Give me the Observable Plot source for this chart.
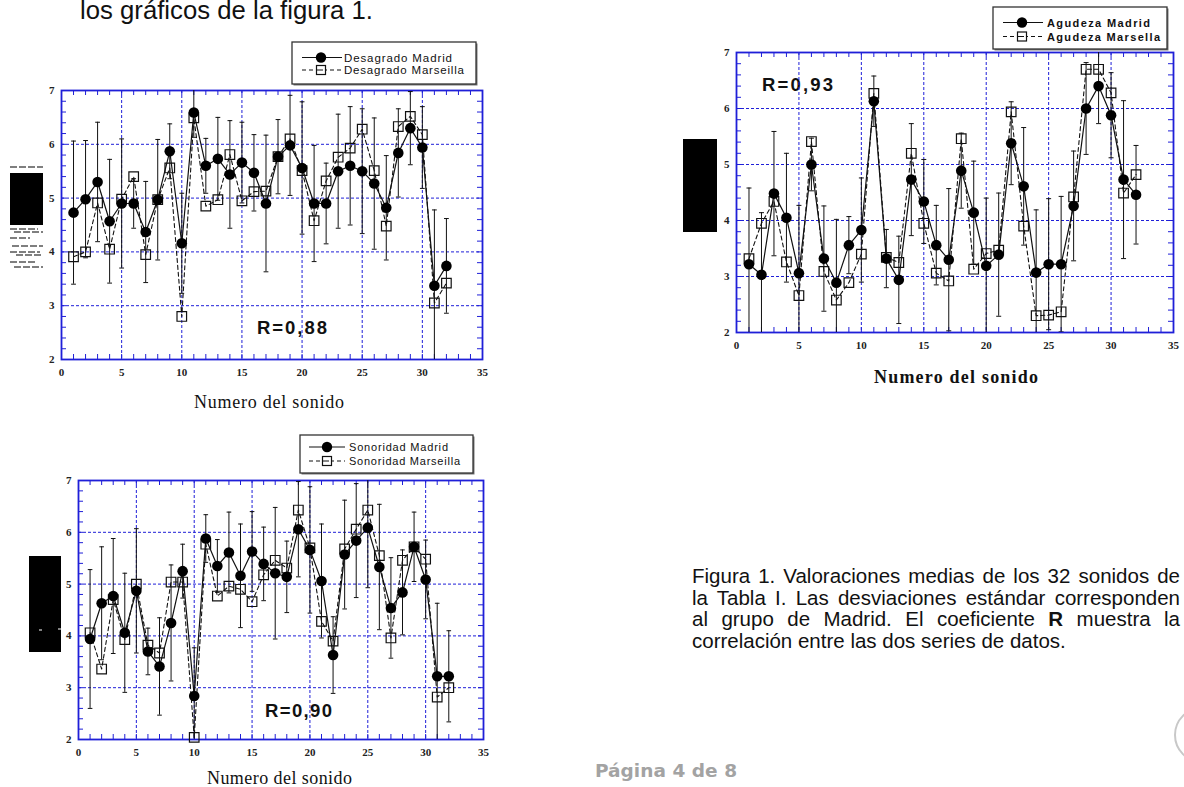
<!DOCTYPE html>
<html><head><meta charset="utf-8">
<script src="https://cdn.jsdelivr.net/npm/d3@7"></script>
<script src="https://cdn.jsdelivr.net/npm/@observablehq/plot@0.6"></script>
<style>
html,body{margin:0;padding:0;background:#fff;}
#page{position:relative;width:1184px;height:787px;overflow:hidden;background:#fff;}
.chart{position:absolute;}
#caption{position:absolute;left:692px;top:565px;width:488px;font-family:'Liberation Sans',Arial,sans-serif;font-size:20.5px;line-height:21.7px;text-align:justify;color:#111;}
#overlay{position:absolute;left:0;top:0;}
</style></head>
<body><div id="page"></div>
<script>
// ---------- data ----------
const sonido = d3.range(1, 33);
const xMajor = [0, 5, 10, 15, 20, 25, 30, 35];
const yMajor = [2, 3, 4, 5, 6, 7];
const xMinor = d3.range(0, 36);
const yMinor = d3.range(20, 71, 2).map(d => d / 10);

const desagradoMadrid   = [4.73,4.98,5.30,4.57,4.90,4.90,4.37,4.97,5.87,4.16,6.59,5.60,5.73,5.44,5.66,5.47,4.90,5.77,5.98,5.56,4.90,4.90,5.50,5.60,5.50,5.27,4.82,5.84,6.30,5.94,3.37,3.74];
const desagradoMarsella = [3.91,4.00,4.91,4.05,4.98,5.40,3.95,4.97,5.56,2.80,6.49,4.85,4.97,5.81,4.95,5.12,5.13,5.77,6.10,5.51,4.58,5.32,5.76,5.93,6.28,5.51,4.48,6.33,6.52,6.18,3.05,3.42];
const desagradoSD       = [1.33,1.09,1.11,1.15,1.20,0.46,0.94,1.12,0.51,0.93,0.46,0.51,0.77,1.00,0.75,0.71,1.27,0.69,0.93,1.23,1.08,0.75,1.06,1.10,1.16,1.22,0.97,0.82,0.68,0.76,1.41,0.88];

const agudezaMadrid   = [3.22,3.03,4.48,4.05,3.06,5.00,3.32,2.89,3.56,3.83,6.13,3.32,2.94,4.73,4.34,3.56,3.30,4.89,4.14,3.19,3.39,5.38,4.61,3.07,3.22,3.22,4.26,6.00,6.40,5.88,4.73,4.46];
const agudezaMarsella = [3.32,3.95,4.34,3.26,2.66,5.41,3.09,2.58,2.89,3.40,6.27,3.34,3.25,5.20,3.95,3.06,2.92,5.46,3.13,3.41,3.47,5.94,3.90,2.30,2.31,2.37,4.42,6.70,6.70,6.28,4.49,4.82];
const agudezaSD       = [1.36,1.11,1.11,1.15,1.21,0.47,0.94,1.13,0.51,0.93,0.45,0.52,0.78,1.00,0.75,0.71,1.27,0.67,0.92,1.21,1.10,0.74,1.05,1.12,1.17,1.21,0.98,0.82,0.67,0.76,1.41,0.88];

const sonoridadMadrid   = [3.94,4.63,4.77,4.06,4.87,3.70,3.41,4.25,5.25,2.84,5.88,5.35,5.61,5.16,5.63,5.39,5.21,5.14,6.06,5.66,5.06,3.63,5.57,5.84,6.09,5.33,4.54,4.84,5.72,5.09,3.22,3.22];
const sonoridadMarsella = [4.06,3.36,4.70,3.93,5.00,3.82,3.67,5.04,5.04,2.04,5.77,4.77,4.96,4.90,4.66,5.18,5.46,5.31,6.43,5.70,4.28,3.90,5.68,6.06,6.43,5.55,3.96,5.46,5.72,5.48,2.82,3.00];
const sonoridadSD       = [1.34,1.09,1.11,1.15,1.20,0.45,0.94,1.12,0.52,0.93,0.46,0.51,0.78,1.00,0.77,0.71,1.27,0.69,0.92,1.22,1.10,0.74,1.05,1.10,1.16,1.21,0.97,0.82,0.67,0.76,1.41,0.88];

const xLabel = "Numero del sonido";
const legendDesagrado = ["Desagrado Madrid", "Desagrado Marseilla"];
const legendAgudeza = ["Agudeza Madrid", "Agudeza Marsella"];
const legendSonoridad = ["Sonoridad Madrid", "Sonoridad Marseilla"];
const rDesagrado = "R=0,88", rAgudeza = "R=0,93", rSonoridad = "R=0,90";

// ---------- layout ----------
const BLUE = "#1f1fd8";
const ML = 30, MR = 10, MT = 10, MB = 30;
const page = document.getElementById("page");

const ov = d3.select(page).append("svg").attr("id", "overlay").attr("width", 1184).attr("height", 787);

function txt(x, y, s, {size, family, weight = "normal", len, fill = "#111", anchor = "start"}) {
  const t = ov.append("text").attr("x", x).attr("y", y).text(s)
    .attr("font-family", family).attr("font-size", size).attr("font-weight", weight)
    .attr("fill", fill).attr("text-anchor", anchor);
  if (len) t.attr("textLength", len).attr("lengthAdjust", "spacing");
  return t;
}
const SANS = "'Liberation Sans', Arial, sans-serif";
const SERIF = "'Liberation Serif', 'Times New Roman', serif";

// top text fragment
txt(80, 19, "los gráficos de la figura 1.", {size: 25.7, family: SANS, len: 293});
// page footer
txt(595, 777, "Página 4 de 8", {size: 18.5, family: "'DejaVu Sans', Verdana, sans-serif", weight: "bold", fill: "#a3a3a3", len: 142});
// decorative arc bottom-right
ov.append("circle").attr("cx", 1202).attr("cy", 735).attr("r", 27).attr("fill", "none").attr("stroke", "#c8c8c8").attr("stroke-width", 2);

// black blocks (scanned y-axis labels)
ov.append("rect").attr("x", 10).attr("y", 173).attr("width", 33).attr("height", 52).attr("fill", "#000");
[[10,43,167],[10,38,229],[14,43,232],[10,30,238],[12,43,246],[10,40,252],[16,43,255],[10,36,262],[14,43,267]].forEach(([a,b,y]) =>
  ov.append("line").attr("x1", a).attr("x2", b).attr("y1", y).attr("y2", y).attr("stroke", "#000").attr("stroke-width", 1.2).attr("stroke-dasharray", "7,2"));
ov.append("rect").attr("x", 683).attr("y", 139).attr("width", 34).attr("height", 93).attr("fill", "#000");
ov.append("rect").attr("x", 29).attr("y", 556).attr("width", 32).attr("height", 96).attr("fill", "#000");
ov.append("line").attr("x1", 39).attr("x2", 42).attr("y1", 630).attr("y2", 630).attr("stroke", "#fff");
ov.append("line").attr("x1", 58).attr("x2", 61).attr("y1", 629).attr("y2", 629).attr("stroke", "#fff");

function legend({x, y, w, h, gx0, gx1, mx, tx, rows, labels, lens, bold, size}) {
  ov.append("rect").attr("x", x + 1.5).attr("y", y + 1.5).attr("width", w).attr("height", h).attr("fill", "#777");
  ov.append("rect").attr("x", x).attr("y", y).attr("width", w).attr("height", h).attr("fill", "#fff").attr("stroke", "#333").attr("stroke-width", 1.3);
  const c1 = rows[0] - 4, c2 = rows[1] - 4;
  ov.append("line").attr("x1", gx0).attr("x2", gx1).attr("y1", c1).attr("y2", c1).attr("stroke", "#111").attr("stroke-width", 1.2);
  ov.append("circle").attr("cx", mx).attr("cy", c1).attr("r", 5.2).attr("fill", "#000");
  ov.append("line").attr("x1", gx0).attr("x2", gx1).attr("y1", c2).attr("y2", c2).attr("stroke", "#111").attr("stroke-width", 1.2).attr("stroke-dasharray", "4,3");
  ov.append("rect").attr("x", mx - 4.5).attr("y", c2 - 4.5).attr("width", 9).attr("height", 9).attr("fill", "#fff").attr("stroke", "#111").attr("stroke-width", 1.2);
  ov.append("line").attr("x1", mx - 4.5).attr("x2", mx + 2).attr("y1", c2).attr("y2", c2).attr("stroke", "#111").attr("stroke-width", 1);
  labels.forEach((l, i) => txt(tx, rows[i], l, {size, family: SANS, weight: bold ? "bold" : "normal", len: lens[i]}));
}
legend({x: 292, y: 42, w: 184, h: 42, gx0: 302, gx1: 342, mx: 321, tx: 344, rows: [61.5, 74], labels: legendDesagrado, lens: [108, 120], bold: false, size: 11.5});
legend({x: 993, y: 7, w: 174, h: 42, gx0: 1003, gx1: 1043, mx: 1022, tx: 1047, rows: [26.5, 40.5], labels: legendAgudeza, lens: [103, 113], bold: true, size: 11});
legend({x: 300, y: 435, w: 173, h: 38, gx0: 309, gx1: 345, mx: 327, tx: 349, rows: [451, 465], labels: legendSonoridad, lens: [99, 111], bold: false, size: 11});

// R labels
txt(257, 334, rDesagrado, {size: 18.5, family: SANS, weight: "bold", len: 70});
txt(762, 91, rAgudeza, {size: 18.5, family: SANS, weight: "bold", len: 71});
txt(265, 717, rSonoridad, {size: 18.5, family: SANS, weight: "bold", len: 67});

// axis titles
txt(194, 408, xLabel, {size: 18, family: SERIF, len: 150});
txt(874, 383, xLabel, {size: 18, family: SERIF, weight: "bold", len: 164});
txt(207, 784, xLabel, {size: 18, family: SERIF, len: 145});

// caption
const cap = document.createElement("div");
cap.id = "caption";
cap.innerHTML = "Figura 1. Valoraciones medias de los 32 sonidos de la Tabla I. Las desviaciones estándar corresponden al grupo de Madrid. El coeficiente <b>R</b> muestra la correlación entre las dos series de datos.";
page.appendChild(cap);

// ---------- charts ----------
function chart({x0, x1, y0, y1, madrid, marsella, sd}) {
  const fw = x1 - x0, fh = y1 - y0;
  const rows = sonido.map((s, i) => ({s, m: madrid[i], f: marsella[i], lo: madrid[i] - sd[i], hi: madrid[i] + sd[i]}));
  const svg = Plot.plot({
    width: fw + ML + MR, height: fh + MT + MB,
    marginLeft: ML, marginRight: MR, marginTop: MT, marginBottom: MB,
    x: {domain: [0, 35]},
    y: {domain: [2, 7]},
    style: {background: "none", overflow: "visible", fontFamily: SERIF, fontSize: "11px", fontWeight: "bold", color: "#222"},
    marks: [
      Plot.ruleX(xMajor.slice(1, -1), {stroke: BLUE, strokeDasharray: "3,2", strokeWidth: 1}),
      Plot.ruleY(yMajor.slice(1, -1), {stroke: BLUE, strokeDasharray: "3,2", strokeWidth: 1}),
      Plot.ruleX(xMinor, {stroke: BLUE, strokeWidth: 1, insetTop: fh - 5}),
      Plot.ruleX(xMinor, {stroke: BLUE, strokeWidth: 1, insetBottom: fh - 5}),
      Plot.ruleY(yMinor, {stroke: BLUE, strokeWidth: 1, insetRight: fw - 5}),
      Plot.ruleY(yMinor, {stroke: BLUE, strokeWidth: 1, insetLeft: fw - 5}),
      Plot.frame({stroke: BLUE, strokeWidth: 1.8}),
      Plot.ruleX(rows, {x: "s", y1: "lo", y2: "hi", stroke: "#111", strokeWidth: 1, clip: true}),
      Plot.link(rows, {x1: d => d.s - 0.2, x2: d => d.s + 0.2, y1: "hi", y2: "hi", stroke: "#111", strokeWidth: 1, clip: true}),
      Plot.link(rows, {x1: d => d.s - 0.2, x2: d => d.s + 0.2, y1: "lo", y2: "lo", stroke: "#111", strokeWidth: 1, clip: true}),
      Plot.line(rows, {x: "s", y: "f", stroke: "#111", strokeWidth: 1.1, strokeDasharray: "4,3"}),
      Plot.dot(rows, {x: "s", y: "f", symbol: "square", r: 5.4, stroke: "#111", strokeWidth: 1.2, fill: "none"}),
      Plot.line(rows, {x: "s", y: "m", stroke: "#111", strokeWidth: 1.2}),
      Plot.dot(rows, {x: "s", y: "m", r: 5.3, fill: "#000", stroke: "none"}),
      Plot.axisX({ticks: xMajor, tickSize: 0, tickPadding: 9, label: null, tickFormat: d => String(d)}),
      Plot.axisY({ticks: yMajor, tickSize: 0, tickPadding: 7, label: null, tickFormat: d => String(d)})
    ]
  });
  svg.classList.add("chart");
  svg.style.left = (x0 - ML) + "px";
  svg.style.top = (y0 - MT) + "px";
  page.appendChild(svg);
}

chart({x0: 61, x1: 482, y0: 90, y1: 359, madrid: desagradoMadrid, marsella: desagradoMarsella, sd: desagradoSD});
chart({x0: 736, x1: 1173, y0: 52, y1: 332, madrid: agudezaMadrid, marsella: agudezaMarsella, sd: agudezaSD});
chart({x0: 78, x1: 483, y0: 480, y1: 739, madrid: sonoridadMadrid, marsella: sonoridadMarsella, sd: sonoridadSD});
</script>
</body></html>
